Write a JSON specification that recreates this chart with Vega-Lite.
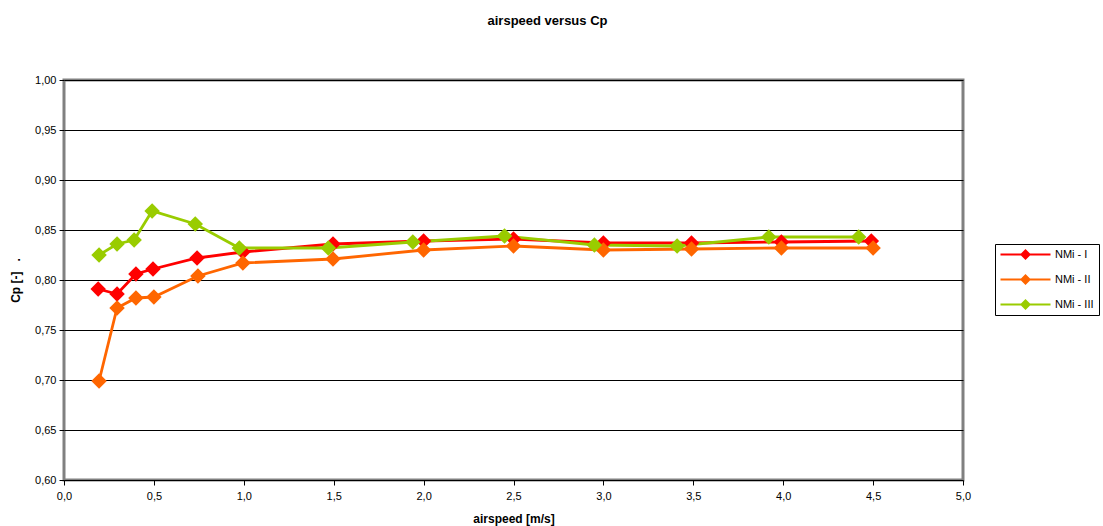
{
  "$schema": "https://vega.github.io/schema/vega-lite/v6.json",
  "width": 899,
  "height": 400,
  "autosize": {"type": "none"},
  "padding": {"left": 64, "top": 80, "right": 140, "bottom": 46},
  "background": "white",
  "title": {"text": "airspeed versus Cp", "font": "Liberation Sans", "fontSize": 13, "fontWeight": "bold", "color": "black", "anchor": "middle", "dx": 34, "offset": 46},
  "config": {
    "view": {"stroke": "#808080", "strokeWidth": 3},
    "font": "Liberation Sans"
  },
  "data": {"values": [
    {"s": "NMi - I", "v": 0.19, "cp": 0.791},
    {"s": "NMi - I", "v": 0.295, "cp": 0.786},
    {"s": "NMi - I", "v": 0.40, "cp": 0.806},
    {"s": "NMi - I", "v": 0.495, "cp": 0.811},
    {"s": "NMi - I", "v": 0.74, "cp": 0.822},
    {"s": "NMi - I", "v": 0.995, "cp": 0.828},
    {"s": "NMi - I", "v": 1.496, "cp": 0.836},
    {"s": "NMi - I", "v": 2.0, "cp": 0.839},
    {"s": "NMi - I", "v": 2.5, "cp": 0.841},
    {"s": "NMi - I", "v": 3.0, "cp": 0.837},
    {"s": "NMi - I", "v": 3.49, "cp": 0.837},
    {"s": "NMi - I", "v": 3.99, "cp": 0.838},
    {"s": "NMi - I", "v": 4.49, "cp": 0.839},
    {"s": "NMi - II", "v": 0.195, "cp": 0.699},
    {"s": "NMi - II", "v": 0.295, "cp": 0.772},
    {"s": "NMi - II", "v": 0.40, "cp": 0.782},
    {"s": "NMi - II", "v": 0.50, "cp": 0.783},
    {"s": "NMi - II", "v": 0.745, "cp": 0.804},
    {"s": "NMi - II", "v": 0.995, "cp": 0.817},
    {"s": "NMi - II", "v": 1.496, "cp": 0.821},
    {"s": "NMi - II", "v": 2.0, "cp": 0.830},
    {"s": "NMi - II", "v": 2.5, "cp": 0.834},
    {"s": "NMi - II", "v": 3.0, "cp": 0.830},
    {"s": "NMi - II", "v": 3.49, "cp": 0.831},
    {"s": "NMi - II", "v": 3.99, "cp": 0.832},
    {"s": "NMi - II", "v": 4.5, "cp": 0.832},
    {"s": "NMi - III", "v": 0.195, "cp": 0.825},
    {"s": "NMi - III", "v": 0.295, "cp": 0.836},
    {"s": "NMi - III", "v": 0.39, "cp": 0.840},
    {"s": "NMi - III", "v": 0.49, "cp": 0.869},
    {"s": "NMi - III", "v": 0.73, "cp": 0.856},
    {"s": "NMi - III", "v": 0.975, "cp": 0.832},
    {"s": "NMi - III", "v": 1.47, "cp": 0.832},
    {"s": "NMi - III", "v": 1.94, "cp": 0.838},
    {"s": "NMi - III", "v": 2.45, "cp": 0.844},
    {"s": "NMi - III", "v": 2.95, "cp": 0.835},
    {"s": "NMi - III", "v": 3.41, "cp": 0.834},
    {"s": "NMi - III", "v": 3.92, "cp": 0.843},
    {"s": "NMi - III", "v": 4.42, "cp": 0.843}
  ]},
  "mark": {"type": "line", "strokeWidth": 2.8, "point": {"shape": "diamond", "size": 240, "filled": true, "opacity": 1}},
  "encoding": {
    "x": {
      "field": "v", "type": "quantitative",
      "scale": {"domain": [0, 5], "nice": false, "zero": false},
      "axis": {
        "title": "airspeed [m/s]", "titleFont": "Liberation Sans", "titleFontSize": 12, "titleFontWeight": "bold", "titleColor": "black", "titlePadding": 12,
        "values": [0, 0.5, 1, 1.5, 2, 2.5, 3, 3.5, 4, 4.5, 5],
        "labelExpr": "replace(format(datum.value, '.1f'), '.', ',')",
        "labelFont": "Liberation Sans", "labelFontSize": 11, "labelColor": "black", "labelPadding": 5,
        "grid": false, "domain": false, "tickColor": "black", "tickSize": 5, "labelFlush": false
      }
    },
    "y": {
      "field": "cp", "type": "quantitative",
      "scale": {"domain": [0.6, 1.0], "nice": false, "zero": false},
      "axis": {
        "title": "Cp [-]\u00a0\u00a0\u00a0.", "titleFont": "Liberation Sans", "titleFontSize": 12, "titleFontWeight": "bold", "titleColor": "black", "titlePadding": 12,
        "values": [0.6, 0.65, 0.7, 0.75, 0.8, 0.85, 0.9, 0.95, 1.0],
        "labelExpr": "replace(format(datum.value, '.2f'), '.', ',')",
        "labelFont": "Liberation Sans", "labelFontSize": 11, "labelColor": "black", "labelPadding": 3,
        "grid": true, "gridColor": "black", "gridOpacity": 1, "gridWidth": 1,
        "domain": false, "tickColor": "black", "tickSize": 5, "labelFlush": false
      }
    },
    "color": {
      "field": "s", "type": "nominal",
      "scale": {"domain": ["NMi - I", "NMi - II", "NMi - III"], "range": ["#FF0000", "#FF6600", "#99CC00"]},
      "legend": {
        "title": null, "orient": "none", "legendX": 931, "legendY": 164,
        "strokeColor": "black", "fillColor": "white", "padding": 5,
        "symbolType": "M-5,-0.22L-0.9,-0.22L0,-1.1L0.9,-0.22L5,-0.22L5,0.22L0.9,0.22L0,1.1L-0.9,0.22L-5,0.22Z",
        "symbolSize": 100, "symbolStrokeWidth": 0, "symbolOpacity": 1, "symbolOffset": 20,
        "labelFont": "Liberation Sans", "labelFontSize": 11, "labelColor": "black", "labelOffset": 24,
        "rowPadding": 13
      }
    }
  }
}
